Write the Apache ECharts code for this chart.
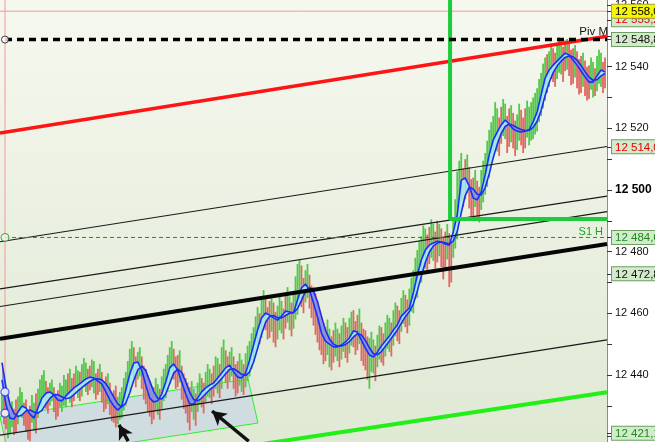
<!DOCTYPE html>
<html><head><meta charset="utf-8">
<script src="https://cdn.jsdelivr.net/npm/echarts@6/dist/echarts.min.js"></script>
<style>html,body{margin:0;padding:0;background:#fff;}#c{width:655px;height:442px;}</style>
</head><body><div id="c"></div><script>
// ---- price bars on whole slots ----
const highs=[
12434.0,12432.0,12430.5,12429.0,12433.0,12434.5,12432.0,12430.0,12431.0,12435.5,
12440.0,12438.0,12437.5,12436.0,12435.0,12436.5,12438.5,12442.0,12440.5,12441.5,
12443.5,12444.0,12443.0,12444.5,12442.0,12441.0,12439.5,12437.5,12435.0,12433.0,
12436.0,12441.0,12448.5,12449.0,12447.5,12446.0,12442.0,12438.0,12436.0,12437.0,
12439.5,12443.5,12449.0,12448.5,12446.5,12443.0,12439.0,12436.0,12435.5,12437.5,
12439.0,12441.0,12442.0,12443.0,12445.5,12449.0,12448.0,12447.5,12446.0,12444.5,
12445.0,12447.0,12451.0,12455.5,12462.0,12464.5,12465.0,12464.0,12463.5,12462.5,
12464.0,12466.0,12465.5,12467.0,12476.0,12475.5,12474.0,12472.5,12468.5,12464.0,
12459.0,12455.5,12455.0,12454.5,12455.0,12456.0,12457.0,12458.5,12461.0,12459.5,
12457.0,12454.5,12452.0,12451.5,12453.0,12455.5,12457.0,12458.5,12461.0,12462.5,
12465.0,12466.0,12468.0,12474.0,12480.5,12485.0,12487.5,12488.0,12489.0,12490.0,
12487.5,12486.5,12486.0,12491.0,12506.0,12512.0,12510.0,12507.5,12504.0,12503.0,
12506.5,12512.0,12519.5,12524.0,12526.5,12527.0,12528.0,12526.5,12525.0,12524.5,
12526.0,12526.5,12527.0,12530.0,12533.0,12538.0,12543.0,12545.0,12546.0,12547.5,
12549.0,12548.5,12548.0,12546.0,12545.0,12543.5,12542.0,12540.5,12541.5,12543.5,
12544.5,12543.0];
const lows=[
12426.5,12422.5,12421.0,12420.5,12424.0,12426.0,12421.5,12418.5,12422.0,12426.0,
12428.5,12429.0,12430.0,12428.0,12426.5,12428.0,12429.5,12431.0,12431.5,12432.5,
12433.0,12434.5,12435.0,12434.0,12433.5,12431.0,12429.0,12427.0,12424.5,12424.0,
12426.0,12430.0,12435.0,12439.0,12438.5,12435.5,12430.5,12426.5,12425.5,12427.0,
12429.0,12432.5,12437.0,12438.5,12436.0,12432.0,12427.5,12422.0,12425.5,12428.0,
12429.5,12431.0,12432.5,12433.0,12434.0,12435.5,12437.5,12438.0,12435.5,12434.0,
12434.5,12436.0,12439.5,12444.0,12448.5,12452.0,12454.5,12452.0,12450.5,12451.5,
12453.5,12455.0,12454.5,12455.0,12459.5,12462.0,12463.5,12461.5,12456.0,12450.5,
12446.5,12444.5,12442.5,12444.0,12444.5,12445.0,12445.5,12447.0,12449.0,12448.0,
12444.5,12441.5,12435.5,12440.5,12442.5,12444.0,12446.0,12447.5,12449.5,12451.0,
12454.0,12455.5,12456.0,12460.0,12465.0,12470.0,12474.5,12476.0,12477.0,12476.5,
12475.0,12474.0,12468.5,12478.0,12484.0,12496.5,12497.0,12494.0,12491.0,12490.5,
12493.5,12498.5,12504.0,12510.0,12512.5,12515.0,12516.5,12514.0,12513.5,12513.0,
12514.5,12513.5,12514.5,12516.5,12519.0,12524.0,12529.0,12533.5,12535.0,12536.0,
12537.5,12538.5,12537.0,12534.5,12533.0,12531.5,12530.5,12529.5,12530.0,12532.0,
12533.5,12533.0];
const upBar=[
1,0,1,0,1,1,0,0,1,1, 1,0,1,0,0,1,1,1,0,1, 1,1,0,1,0,0,0,0,0,1, 1,1,1,0,1,0,0,0,0,1,
1,1,1,0,0,0,0,0,1,1, 0,1,1,0,1,1,0,1,0,0, 1,1,1,1,1,1,0,0,0,1, 1,0,1,1,1,0,1,0,0,0,
0,0,1,0,1,1,0,1,0,0, 0,0,1,1,1,0,1,1,1,0, 1,0,1,1,1,1,1,0,1,0, 0,0,0,1,1,1,0,0,0,0,
1,1,1,1,1,0,1,0,0,1, 0,0,1,1,1,1,1,1,0,1, 1,0,0,0,0,0,0,0,1,1, 1,0];
// ---- price bars between slots ----
const midHighs=[
12436.5,12429.0,12431.5,12432.0,12436.0,12431.0,12428.5,12433.5,12434.0,12438.5,
12441.5,12436.0,12438.5,12434.0,12437.5,12440.0,12440.5,12439.0,12443.0,12441.0,
12445.5,12442.0,12445.0,12440.5,12443.5,12438.0,12440.5,12434.0,12436.5,12434.5,
12439.0,12444.5,12451.0,12446.0,12449.0,12443.0,12440.0,12435.0,12439.0,12435.5,
12442.0,12446.5,12451.0,12446.0,12448.0,12440.5,12437.5,12438.0,12434.0,12440.5,
12437.5,12443.5,12440.5,12446.0,12443.5,12451.5,12446.0,12449.0,12443.5,12447.0,
12443.5,12449.5,12453.5,12459.0,12460.0,12467.5,12462.0,12466.0,12460.5,12465.5,
12461.5,12468.5,12463.5,12472.0,12477.5,12471.5,12476.0,12469.0,12466.5,12461.0,
12457.0,12458.0,12452.5,12457.0,12453.5,12458.5,12455.5,12460.5,12457.5,12461.5,
12455.0,12452.5,12454.0,12449.5,12456.0,12453.5,12459.5,12457.0,12463.5,12461.0,
12467.5,12464.5,12471.5,12478.0,12483.5,12488.5,12485.5,12490.5,12486.5,12489.0,
12484.5,12489.0,12483.5,12497.0,12509.5,12507.0,12511.5,12503.5,12506.5,12501.0,
12509.5,12516.0,12522.0,12528.5,12523.5,12529.5,12524.0,12527.5,12522.5,12528.0,
12523.5,12529.0,12528.5,12531.5,12536.0,12541.0,12544.0,12547.5,12544.5,12549.5,
12546.5,12549.0,12545.5,12547.0,12542.5,12544.5,12540.0,12543.0,12539.5,12545.5,
12541.5];
const midLows=[
12424.0,12419.5,12423.0,12421.5,12427.5,12423.5,12419.0,12424.5,12421.0,12429.5,
12432.0,12427.5,12431.5,12425.5,12429.5,12430.0,12432.5,12429.5,12434.0,12431.5,
12436.5,12433.5,12436.0,12432.0,12434.5,12428.0,12430.5,12425.0,12423.0,12425.5,
12428.5,12433.5,12440.0,12436.0,12439.5,12432.0,12428.0,12424.0,12428.5,12425.5,
12431.5,12435.0,12440.5,12435.5,12437.5,12429.0,12424.5,12428.0,12423.5,12430.5,
12427.5,12433.0,12430.5,12435.5,12432.5,12440.0,12435.5,12439.5,12433.0,12436.5,
12433.5,12438.0,12442.0,12446.5,12450.0,12455.5,12451.5,12454.0,12449.0,12454.5,
12451.5,12457.0,12452.5,12458.0,12464.5,12460.0,12465.0,12458.5,12453.0,12448.0,
12443.5,12446.5,12441.5,12446.0,12442.5,12447.5,12444.0,12449.5,12446.5,12450.0,
12443.0,12438.5,12441.0,12438.0,12445.0,12443.0,12448.5,12446.0,12452.5,12450.0,
12456.5,12453.5,12460.5,12464.5,12469.5,12474.0,12473.0,12478.0,12474.5,12478.5,
12471.0,12477.5,12470.0,12481.0,12490.0,12494.5,12499.0,12490.5,12494.5,12489.5,
12496.0,12501.0,12508.0,12514.0,12511.0,12517.5,12512.0,12515.5,12511.0,12516.0,
12512.0,12517.0,12516.0,12518.0,12522.0,12526.5,12531.5,12536.0,12533.5,12538.0,
12535.0,12539.0,12534.0,12536.5,12531.0,12533.5,12529.0,12532.5,12530.5,12534.5,
12531.5];
const midUp=[
0,1,1,0,1,0,0,1,0,1, 1,0,1,0,1,1,0,0,1,0, 1,0,1,0,1,0,1,0,0,1, 1,1,1,0,1,0,0,0,1,0,
1,1,1,0,1,0,0,1,0,1, 0,1,0,1,0,1,0,1,0,1, 0,1,1,1,0,1,0,1,0,1, 0,1,0,1,1,0,1,0,0,0,
0,1,0,1,0,1,0,1,0,1, 0,0,1,0,1,0,1,0,1,0, 1,0,1,1,1,1,0,1,0,1, 0,1,0,1,1,0,1,0,1,0,
1,1,1,1,0,1,0,1,0,1, 0,1,1,1,1,1,0,1,0,1, 0,1,0,1,0,1,0,1,0,1, 0];
// ---- moving averages ----
const fastMA=[
12438.4,12430.3,12426.0,12425.7,12428.0,12429.9,12429.3,12427.3,12426.0,12429.3,
12432.5,12434.1,12434.5,12433.5,12431.9,12431.6,12433.2,12434.5,12435.8,12436.7,
12437.7,12438.7,12439.3,12439.0,12438.0,12437.1,12434.5,12431.9,12429.9,12428.6,
12429.9,12435.1,12440.3,12443.9,12444.2,12441.6,12436.7,12432.5,12431.2,12431.6,
12433.8,12437.7,12442.3,12443.6,12441.6,12437.7,12433.8,12430.6,12430.6,12432.5,
12434.5,12435.8,12436.7,12437.4,12439.0,12440.6,12442.3,12443.2,12441.0,12439.3,
12439.0,12440.6,12444.8,12449.7,12454.6,12458.5,12460.1,12459.4,12458.5,12457.8,
12459.1,12460.7,12460.4,12460.1,12464.3,12468.2,12469.5,12467.6,12463.3,12458.8,
12453.6,12451.0,12450.0,12449.1,12449.1,12449.7,12450.7,12452.0,12454.3,12453.9,
12451.3,12448.7,12446.5,12445.8,12447.4,12449.4,12451.0,12452.6,12454.6,12456.2,
12459.1,12460.4,12461.7,12466.6,12472.4,12477.3,12480.5,12482.1,12482.8,12483.4,
12483.1,12482.5,12482.1,12486.4,12491.9,12503.2,12503.9,12501.3,12497.4,12496.8,
12499.4,12504.9,12511.4,12516.2,12518.8,12521.1,12522.7,12521.4,12519.8,12519.1,
12518.8,12519.1,12519.5,12522.1,12525.3,12530.8,12536.3,12538.9,12540.5,12541.8,
12543.1,12544.4,12543.8,12542.2,12540.5,12538.6,12536.7,12535.0,12535.0,12537.0,
12538.9,12538.3];
const slowMA=[
12444.0,12436.0,12430.5,12427.5,12426.5,12427.0,12428.3,12428.6,12428.0,12427.6,
12428.5,12430.6,12432.4,12433.6,12433.6,12432.9,12432.3,12432.6,12433.6,12434.8,
12435.9,12436.9,12437.9,12438.6,12438.8,12438.4,12437.2,12435.2,12432.8,12430.6,
12429.6,12430.9,12434.2,12438.3,12441.6,12442.9,12441.4,12438.0,12434.6,12432.4,
12432.2,12433.8,12437.2,12440.6,12441.9,12440.8,12437.8,12434.4,12432.0,12431.6,
12432.5,12433.9,12435.2,12436.2,12437.4,12438.8,12440.4,12441.8,12442.0,12441.2,
12440.2,12439.8,12441.0,12444.2,12448.6,12453.2,12457.0,12459.0,12459.3,12458.6,
12458.5,12459.3,12460.0,12460.3,12461.5,12464.2,12467.2,12468.4,12467.2,12463.8,
12459.0,12454.6,12451.6,12450.0,12449.4,12449.4,12449.9,12450.8,12452.3,12453.4,
12453.0,12451.2,12448.8,12446.9,12446.6,12447.6,12449.3,12451.0,12452.8,12454.6,
12456.8,12458.9,12460.6,12463.0,12467.2,12472.0,12476.5,12479.8,12481.8,12482.8,
12483.1,12482.9,12482.5,12483.4,12486.6,12492.6,12498.2,12500.9,12500.3,12498.6,
12498.4,12500.8,12505.2,12510.4,12514.8,12518.3,12520.6,12521.4,12520.9,12520.2,
12519.6,12519.3,12519.3,12520.3,12522.3,12525.8,12530.6,12534.8,12538.0,12540.2,
12541.8,12543.0,12543.5,12543.2,12542.1,12540.4,12538.4,12536.6,12535.6,12535.8,
12537.0,12537.8];
// ---- drawn objects: [slot, price] ----
const redLine=[[0,12518.5],[152,12549.9]];
const channel1=[[0,12483.2],[152,12514.1]];
const channel2=[[0,12467.9],[152,12498.0]];
const channel3=[[0,12462.2],[152,12493.0]];
const mainLine=[[0,12451.7],[152,12482.5]];
const lowerLine=[[0,12420.5],[152,12451.4]];
const greenLine=[[62.6,12417.0],[152,12434.4]];
const boxZone=[[0,12426.4],[62.1,12438.7],[64.6,12424.4],[2.5,12412.1]];
const arrow1=[[32.1,12418.5],[29.8,12423.8]];
const arrow2=[[62.3,12418.5],[53.1,12428.3]];
const startSlot=1.25;
const pivM=12548.8, s1H=12484.6, pinkLevel=12558.0;
const s1Corner=[[112.7,12561.6],[112.7,12490.6],[152,12490.6]];
const maStartMarks=[[1.25,12434.5],[1.25,12427.6]];
// ---- axis labels ----
const axisPrices=[12560,12540,12520,12500,12480,12460,12440];
const tagPrices=[12555.2,12558.0,12548.8,12514.0,12484.6,12472.8,12421.1];
const tagKinds=['r','y','b','r','g','b','g'];
const minorTicks=[12420,12430,12440,12450,12460,12470,12480,12490,12500,12510,12520,12530,12540,12550,12560];

const FONT='Liberation Sans, Arial, sans-serif';
function fmt(v,dec){const s=dec?v.toFixed(1).replace('.',','):String(Math.round(v));return s.replace(/^(\d+)(\d{3})/,'$1 $2');}
const boxBase={backgroundColor:'#d4eacc',borderColor:'#6c9e60',borderWidth:1,padding:[1,4,0,3],fontSize:11.5,lineHeight:12,fontFamily:FONT};
const chart=echarts.init(document.getElementById('c'),null,{renderer:'canvas'});
const barData=highs.map((h,i)=>[i+0.5,lows[i],h,upBar[i]]).concat(midHighs.map((h,j)=>[j+1,midLows[j],h,midUp[j]]));
const fillData=[];
for(let i=0;i<fastMA.length-1;i++)fillData.push([i+0.5,fastMA[i],slowMA[i],i+1.5,fastMA[i+1],slowMA[i+1]]);
function seg(data,color,width,z,extra){return Object.assign({type:'line',data:data,symbol:'none',showSymbol:false,silent:true,z:z||5,lineStyle:{color:color,width:width},animation:false},extra||{});}
const option={
  animation:false,
  backgroundColor:'#ffffff',
  grid:{left:0,right:48,top:0,bottom:0,show:true,borderWidth:0,containLabel:false,outerBoundsMode:'none',
    backgroundColor:new echarts.graphic.LinearGradient(0,0,0,1,[{offset:0,color:'#f6f8ef'},{offset:1,color:'#dfe9d4'}])},
  xAxis:{type:'value',min:0,max:152,show:false,axisLine:{show:false,onZero:false},axisTick:{show:false},axisLabel:{show:false},splitLine:{show:false}},
  yAxis:{type:'value',position:'right',min:12418.25,max:12561.63,
    splitLine:{show:false},minorTick:{show:false},minorSplitLine:{show:false},
    axisLine:{show:true,onZero:false,lineStyle:{color:'#73a065',width:1}},
    axisTick:{show:true,length:5,lineStyle:{color:'#333'},customValues:minorTicks.concat(tagPrices)},
    axisLabel:{margin:5,customValues:axisPrices.concat(tagPrices),
      formatter:function(v){
        for(let k=0;k<tagPrices.length;k++){if(Math.abs(v-tagPrices[k])<0.01)return '{'+tagKinds[k]+'|'+fmt(v,true)+'}';}
        if(Math.round(v)===12500)return '{nb|'+fmt(v,false)+'}';
        return '{n|'+fmt(v,false)+'}';
      },
      rich:{
        n:{color:'#111',fontSize:11,fontFamily:FONT,padding:[0,0,0,3]},
        nb:{color:'#000',fontSize:12,fontWeight:'bold',fontFamily:FONT,padding:[0,0,0,3]},
        b:Object.assign({},boxBase,{color:'#111'}),
        r:Object.assign({},boxBase,{color:'#e80000'}),
        g:Object.assign({},boxBase,{color:'#1d8a1d'}),
        y:Object.assign({},boxBase,{color:'#000',backgroundColor:'#f6f600',borderColor:'#a0a040'})
      }}
  },
  series:[
    {type:'custom',z:1,silent:true,clip:true,data:[[0]],
      renderItem:function(p,api){return {type:'polygon',shape:{points:boxZone.map(c=>api.coord(c))},style:{fill:'rgba(205,218,226,0.85)',stroke:'#30ee30',lineWidth:1}};}},
    seg([[0,pinkLevel],[152,pinkLevel]],'#f39a9a',1,1),
    seg([[startSlot,12418.25],[startSlot,12561.63]],'#f39a9a',1,1),
    {type:'custom',z:2,silent:true,clip:true,data:barData,encode:{x:0,y:[1,2]},
      renderItem:function(p,api){const x=api.value(0),t=api.coord([x,api.value(2)]),b=api.coord([x,api.value(1)]);
        return {type:'rect',shape:{x:t[0]-0.9,y:t[1],width:1.8,height:Math.max(1,b[1]-t[1])},style:{fill:api.value(3)?'#52c94a':'#e06860'}};}},
    {type:'custom',z:3,silent:true,clip:true,data:fillData,encode:{x:[0,3],y:[1,2,4,5]},
      renderItem:function(p,api){const a=api.coord([api.value(0),api.value(1)]),b=api.coord([api.value(3),api.value(4)]),c=api.coord([api.value(3),api.value(5)]),d=api.coord([api.value(0),api.value(2)]);
        const up=(api.value(1)+api.value(4))>=(api.value(2)+api.value(5));
        return {type:'polygon',shape:{points:[a,b,c,d]},style:{fill:up?'#a9ecf3':'#8891e4',opacity:0.9}};}},
    seg(slowMA.map((v,i)=>[i+0.5,v]),'#1b2fe8',1.6,4),
    seg(fastMA.map((v,i)=>[i+0.5,v]),'#1530ff',1.6,4,{
      markLine:{silent:true,symbol:['none','arrow'],symbolSize:[12,14],label:{show:false},animation:false,
        lineStyle:{color:'#111',width:3.5,type:'solid'},
        data:[[{coord:arrow1[0]},{coord:arrow1[1]}],[{coord:arrow2[0]},{coord:arrow2[1]}]]}}),
    seg(redLine,'#ff1414',3.5,5),
    seg(channel1,'#1a1a1a',1.2,5),
    seg(channel2,'#1a1a1a',1.2,5),
    seg(channel3,'#1a1a1a',1.2,5),
    seg(mainLine,'#050505',4,5),
    seg(lowerLine,'#1a1a1a',1.2,5),
    seg(greenLine,'#22ee18',4,5),
    seg(s1Corner,'#1ccc3c',4,5),
    seg([[startSlot,s1H],[152,s1H]],'#139a13',1,6,{lineStyle:{color:'#139a13',width:1,type:[4,3]},
      markPoint:{silent:true,symbol:'circle',symbolSize:0,animation:false,data:[{coord:[151,s1H],
        label:{show:true,formatter:'S1 H',position:[0,0],align:'right',verticalAlign:'bottom',color:'#22a022',fontSize:11,fontFamily:FONT}}]}}),
    seg([[startSlot,pivM],[152,pivM]],'#000',3,6,{lineStyle:{color:'#000',width:3.5,type:[7,5]},
      markPoint:{silent:true,symbol:'circle',symbolSize:0,animation:false,data:[{coord:[152,pivM],
        label:{show:true,formatter:'Piv M',position:[1,-2],align:'right',verticalAlign:'bottom',color:'#111',fontSize:11.5,fontFamily:FONT}}]}}),
    {type:'scatter',z:8,silent:true,symbol:'circle',symbolSize:7,data:[[startSlot,pivM]],itemStyle:{color:'#fff',borderColor:'#111',borderWidth:1}},
    {type:'scatter',z:8,silent:true,symbol:'circle',symbolSize:8,data:[[startSlot,s1H]],itemStyle:{color:'#eef4e6',borderColor:'#1d8a1d',borderWidth:1}},
    {type:'scatter',z:8,silent:true,symbol:'circle',symbolSize:8,data:maStartMarks,itemStyle:{color:'#fff',borderColor:'#2233ee',borderWidth:1.2}}
  ]
};
chart.setOption(option);
</script></body></html>
